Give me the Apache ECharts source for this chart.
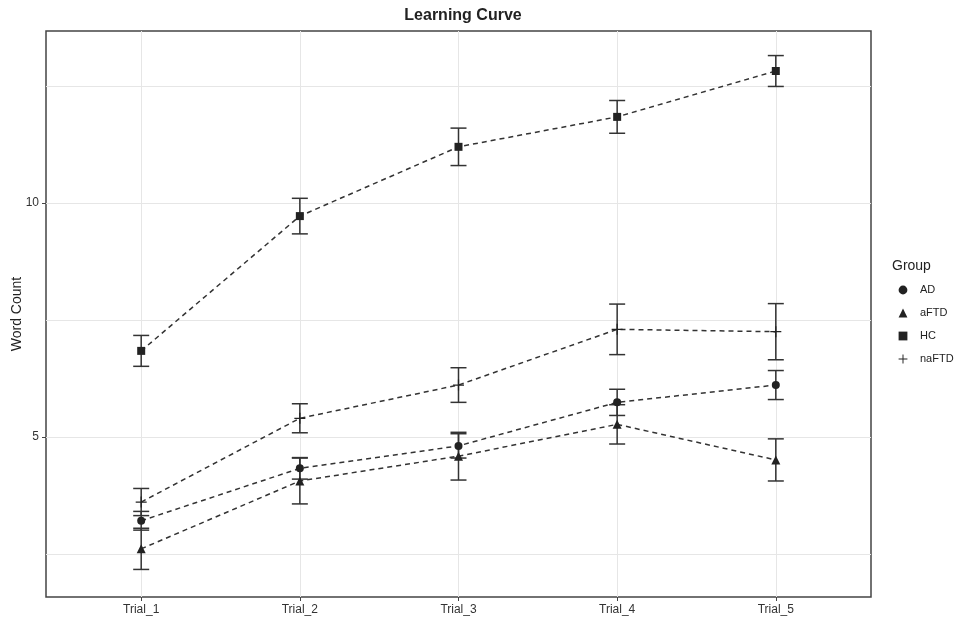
<!DOCTYPE html>
<html>
<head>
<meta charset="utf-8">
<script src="https://cdn.jsdelivr.net/npm/echarts@6/dist/echarts.min.js"></script>
<style>
  html, body { margin: 0; padding: 0; background: #ffffff; }
  #chart { width: 958px; height: 618px; }
</style>
</head>
<body>
<div id="chart"></div>
<script>
// ---- data ----
const categories = ['Trial_1', 'Trial_2', 'Trial_3', 'Trial_4', 'Trial_5'];
const groups = ['AD', 'aFTD', 'HC', 'naFTD'];
const adMean    = [3.21, 4.33, 4.81, 5.74, 6.11];
const adSe      = [0.20, 0.23, 0.26, 0.28, 0.31];
const aftdMean  = [2.61, 4.06, 4.59, 5.27, 4.51];
const aftdSe    = [0.44, 0.49, 0.51, 0.42, 0.45];
const hcMean    = [6.84, 9.72, 11.20, 11.84, 12.82];
const hcSe      = [0.33, 0.38, 0.40, 0.35, 0.33];
const naftdMean = [3.61, 5.40, 6.11, 7.30, 7.25];
const naftdSe   = [0.29, 0.31, 0.37, 0.54, 0.60];
const yLabelTicks = [5, 10];
const yGridTicks = [2.5, 5, 7.5, 10, 12.5];

const plusPath = 'path://M0,4.45H10V5.55H0ZM4.45,0H5.55V10H4.45Z';
const symbols = { AD: 'circle', aFTD: 'triangle', HC: 'rect', naFTD: plusPath };
const symbolSizes = { AD: 8, aFTD: 9, HC: 8, naFTD: 11 };
const means = { AD: adMean, aFTD: aftdMean, HC: hcMean, naFTD: naftdMean };
const ses = { AD: adSe, aFTD: aftdSe, HC: hcSe, naFTD: naftdSe };
const xPos = categories.map((c, i) => i + 1);

const chart = echarts.init(document.getElementById('chart'), null, { renderer: 'canvas' });

const series = [];
groups.forEach(g => {
  series.push({
    name: g + '_err',
    type: 'custom',
    z: 2,
    silent: true,
    data: xPos.map((x, i) => [x, means[g][i] - ses[g][i], means[g][i] + ses[g][i]]),
    encode: { x: 0, y: [1, 2] },
    renderItem: function (params, api) {
      const x = api.value(0);
      const lo = api.coord([x, api.value(1)]);
      const hi = api.coord([x, api.value(2)]);
      const w = 8;
      const st = { stroke: '#333333', lineWidth: 1.5 };
      return {
        type: 'group',
        children: [
          { type: 'line', shape: { x1: lo[0], y1: lo[1], x2: hi[0], y2: hi[1] }, style: st },
          { type: 'line', shape: { x1: lo[0] - w, y1: lo[1], x2: lo[0] + w, y2: lo[1] }, style: st },
          { type: 'line', shape: { x1: hi[0] - w, y1: hi[1], x2: hi[0] + w, y2: hi[1] }, style: st }
        ]
      };
    }
  });
});
groups.forEach(g => {
  series.push({
    name: g,
    type: 'line',
    z: 3,
    data: xPos.map((x, i) => [x, means[g][i]]),
    symbol: symbols[g],
    symbolSize: symbolSizes[g],
    showAllSymbol: true,
    itemStyle: { color: '#222222' },
    lineStyle: { color: '#333333', width: 1.5, type: [5, 4] },
    emphasis: { disabled: true },
    animation: false
  });
});

const option = {
  backgroundColor: '#ffffff',
  animation: false,
  textStyle: { fontFamily: 'Liberation Sans, Arial, sans-serif' },
  title: {
    text: 'Learning Curve',
    left: 458, top: 3, textAlign: 'center',
    textStyle: { fontSize: 16, fontWeight: 'bold', color: '#222222', fontFamily: 'Liberation Sans, Arial, sans-serif' }
  },
  grid: {
    left: 46, top: 31, right: 87, bottom: 21,
    outerBoundsMode: 'none', containLabel: false,
    show: true, borderColor: '#444444', borderWidth: 1.5, backgroundColor: 'transparent'
  },
  legend: {
    orient: 'vertical',
    left: 898, top: 284, padding: 0,
    itemWidth: 10, itemHeight: 11, itemGap: 11,
    data: groups,
    selectedMode: false,
    lineStyle: { width: 0, opacity: 0 },
    textStyle: { fontSize: 11, color: '#222222', lineHeight: 12, padding: [0, 0, 0, 7] }
  },
  graphic: [{
    type: 'text', left: 892, top: 259,
    style: { text: 'Group', fontSize: 14, fill: '#222222', fontFamily: 'Liberation Sans, Arial, sans-serif' }
  }],
  xAxis: {
    type: 'value', min: 0.4, max: 5.6,
    axisLine: { show: false },
    axisTick: { show: true, length: 4, customValues: xPos, lineStyle: { color: '#444444', width: 1 } },
    axisLabel: { customValues: xPos, margin: 7, fontSize: 12, color: '#333333',
      formatter: v => categories[Math.round(v) - 1] || '' },
    splitLine: { show: true, lineStyle: { color: '#e6e6e6', width: 1 } }
  },
  yAxis: [{
    type: 'value', min: 1.581, max: 13.675,
    name: 'Word Count', nameLocation: 'middle', nameGap: 22, nameRotate: 90,
    nameMoveOverlap: false,
    nameTextStyle: { fontSize: 14, color: '#222222' },
    axisLine: { show: false },
    axisTick: { show: true, length: 4, customValues: yLabelTicks, lineStyle: { color: '#444444', width: 1 } },
    axisLabel: { customValues: yLabelTicks, margin: 7, fontSize: 12, color: '#333333' },
    splitLine: { show: false }
  }, {
    type: 'value', min: 1.581, max: 13.675, position: 'right',
    axisLine: { show: false },
    axisTick: { show: false, customValues: yGridTicks },
    axisLabel: { show: false },
    splitLine: { show: true, lineStyle: { color: '#e6e6e6', width: 1 } }
  }],
  series: series
};
chart.setOption(option);
</script>
</body>
</html>
